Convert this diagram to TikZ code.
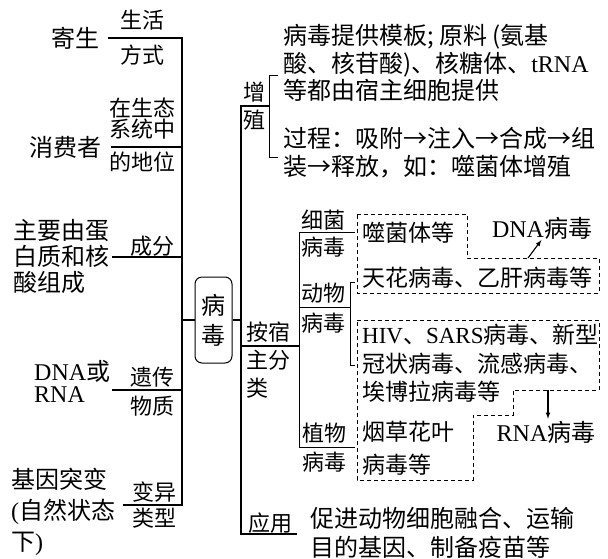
\documentclass[tikz,border=0pt]{standalone}
\usepackage{fontspec}
\setmainfont{Noto Sans CJK SC}
\newfontfamily\lat{Liberation Serif}
\usetikzlibrary{positioning,arrows}

\tikzset{
  txt/.style={inner sep=0pt, align=left, font=\fontsize{24}{28}\selectfont},
  btxt/.style={txt, font=\fontsize{23}{28.5}\selectfont},
  lab/.style={inner sep=0pt, align=center, font=\fontsize{22}{22}\selectfont},
  branch/.style={line width=1.3pt},
  brk/.style={line width=0.9pt},
  dbox/.style={line width=0.8pt, dash pattern=on 4pt off 3pt},
  arr/.style={-latex, line width=1.1pt},
}

\begin{document}
\begin{tikzpicture}[x=1pt,y=-1pt]
\useasboundingbox (0,0) rectangle (608,558);

% left side
\node[txt, anchor=east] (jisheng) at (100,38) {寄生};
\node[txt, anchor=east] (xiaofei) at (102,147) {消费者};
\node[txt, anchor=west, font=\fontsize{24}{26}\selectfont] (zucheng) at (13,256) {主要由蛋\\白质和核\\酸组成};
\node[txt, anchor=west, font=\fontsize{24}{22}\selectfont] (wuzhi) at (34,381) {{\lat DNA}或\\{\lat RNA}};
\node[txt, anchor=west, font=\fontsize{24}{31}\selectfont] (tubian) at (11,512) {基因突变\\{\lat(}自然状态\\下{\lat)}};

\node[lab] (shenghuo) at (142,20) {生活};
\node[lab] (fangshi) at (142,55) {方式};
\node[lab, font=\fontsize{22}{21}\selectfont] (shengtai) at (142,118.5) {在生态\\系统中};
\node[lab] (diwei) at (142,162) {的地位};
\node[lab] (chengfen) at (152,246) {成分};
\node[lab] (yichuan) at (152,377) {遗传};
\node[lab] (wuzhiB) at (152,406) {物质};
\node[lab] (bianyi) at (154,492) {变异};
\node[lab] (leixing) at (154,518) {类型};

\node[draw, line width=1pt, rounded corners=7pt, minimum width=37pt, minimum height=86pt,
  inner sep=0pt, align=center, font=\fontsize{24}{30}\selectfont] (bingdu) at (213.5,320) {病\\毒};

\coordinate (sp) at (182,0);
\coordinate (a1) at (108,38);
\coordinate (a2) at (111,147);
\coordinate (a3) at (112,257);
\coordinate (a4) at (112,390);
\coordinate (a5) at (123,505);
\draw[branch] (a1) -- (a1 -| sp) -- (a5 -| sp) -- (a5);
\foreach \p in {a2,a3,a4}
  \draw[branch] (\p) -- (\p -| sp);
\draw[branch] (bingdu.west) -- (bingdu.west -| sp);

% right side
\coordinate (rs) at (241,0);
\coordinate (zz) at (269,106);
\coordinate (yy) at (297,534);
\coordinate (az) at (299,346);
\draw[branch] (zz) -- (zz -| rs) -- (yy -| rs) -- (yy);
\draw[branch] (bingdu.east) -- (bingdu.east -| rs);
\draw[branch] (az -| rs) -- (az);

\coordinate (zzt) at (278,75);
\coordinate (zzb) at (278,157);
\draw[brk] (zzt) -- (zzt -| zz) -- (zzb -| zz) -- (zzb);

\node[lab] (zeng) at (254,92) {增};
\node[lab] (zhi) at (254,120) {殖};
\node[lab, anchor=west, align=left, font=\fontsize{22}{28}\selectfont] (anzhu) at (246,360) {按宿\\主分\\类};
\node[lab] (yong) at (270,523) {应用};

\node[txt, anchor=west, font=\fontsize{24}{27.5}\selectfont] (yuanliao) at (283,63)
  {病毒提供模板; 原料 (氨基\\酸、核苷酸)、核糖体、{\lat tRNA}\\等都由宿主细胞提供};
\node[txt, anchor=west] (guocheng) at (283,153) {过程：吸附→注入→合成→组\\装→释放，如：噬菌体增殖};
\node[txt, anchor=west, font=\fontsize{24}{29}\selectfont] (yingyong) at (310,532.5)
  {促进动物细胞融合、运输\\目的基因、制备疫苗等};

% hosts
\coordinate (xj) at (355,232);
\coordinate (dw) at (350,307);
\coordinate (zw) at (355,447);
\draw[brk] (xj) -- (xj -| az) -- (zw -| az) -- (zw);
\draw[brk] (az |- dw) -- (dw);
\coordinate (dwt) at (355,282);
\coordinate (dwb) at (355,365);
\draw[brk] (dwt) -- (dwt -| dw) -- (dwb -| dw) -- (dwb);

\node[lab] (xjA) at (323,220) {细菌};
\node[lab] (xjB) at (323,247) {病毒};
\node[lab] (dwA) at (323,293) {动物};
\node[lab] (dwB) at (323,323) {病毒};
\node[lab] (zwA) at (324,433) {植物};
\node[lab] (zwB) at (324,462) {病毒};

\node[btxt, anchor=west] (shijun) at (362,233) {噬菌体等};
\node[btxt, anchor=west] (tianhua) at (362,278) {天花病毒、乙肝病毒等};
\node[btxt, anchor=west] (hiv) at (362,363.5) {{\lat HIV}、{\lat SARS}病毒、新型\\冠状病毒、流感病毒、\\埃博拉病毒等};
\node[btxt, anchor=west, font=\fontsize{23}{33}\selectfont] (yancao) at (362,448) {烟草花叶\\病毒等};

\draw[dbox] (357,214) -- (467,214) -- (467,258) -- (599,258) -- (599,293) -- (357,293) -- cycle;
\draw[dbox] (357,320) -- (599,320) -- (599,390) -- (513,390) -- (513,415) -- (473,415)
  -- (473,480) -- (357,480) -- cycle;

\node[txt] (dna) at (542,228) {{\lat DNA}病毒};
\node[txt] (rna) at (546,432) {{\lat RNA}病毒};
\coordinate (da) at (528,258);
\coordinate (ra) at (548,390);
\draw[arr, shorten >=1pt] (da) -- (dna.south);
\draw[arr, shorten >=2pt] (ra) -- (ra |- rna.north);
\end{tikzpicture}
\end{document}
